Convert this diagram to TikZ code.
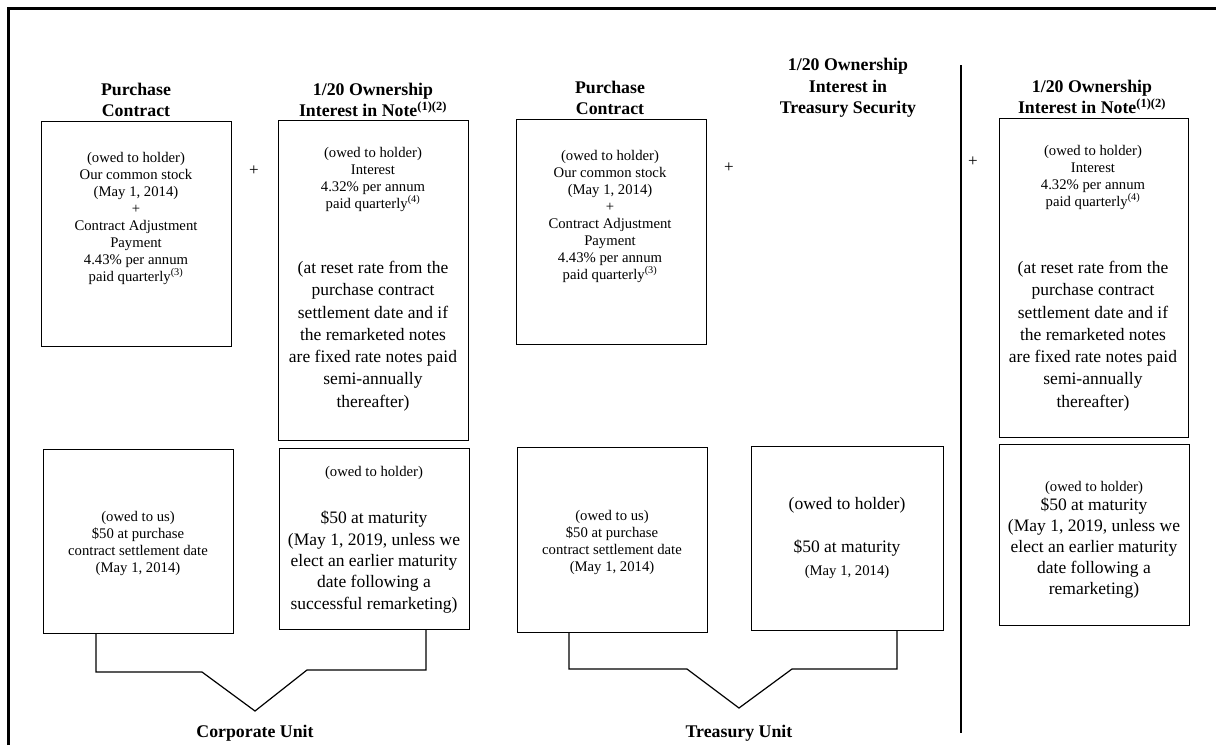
\documentclass[tikz,border=0pt]{standalone}
\usepackage{fontspec}
\setmainfont{Liberation Serif}
\begin{document}
\begin{tikzpicture}[x=1pt,y=-1pt,
  box/.style={draw, line width=1.2pt, anchor=north west, inner sep=0pt},
  hdr/.style={font=\bfseries\fontsize{17.8}{21.5}\selectfont, align=center, inner sep=0pt},
  sm/.style={font=\fontsize{14.7}{17}\selectfont, align=center, inner sep=0pt},
  lg/.style={font=\fontsize{17.5}{22.3}\selectfont, align=center, inner sep=0pt},
  plus/.style={font=\fontsize{17}{17}\selectfont, inner sep=0pt},
  bracket/.style={line width=1.2pt, line join=miter}]
\useasboundingbox (0,0) rectangle (1216,745);

% outer frame (left and top edges) and the column divider
\coordinate (frameTL) at (8,8);
\coordinate (frameTR) at (1216,8);
\coordinate (frameBL) at (8,745);
\draw[line width=3pt] (frameBL) -- (frameTL) -- (frameTR);
\coordinate (divTop) at (961,65);
\coordinate (divBot) at (961,733);
\draw[line width=1.5pt] (divTop) -- (divBot);

% column headings
\node[hdr] (h1) at (136,100) {Purchase\\Contract};
\node[hdr] (h2) at (373,100) {1/20 Ownership\\Interest in Note\textsuperscript{(1)(2)}};
\node[hdr] (h3) at (610,98) {Purchase\\Contract};
\node[hdr] (h4) at (848,88) {1/20 Ownership\\Interest in\\Treasury Security};
\node[hdr] (h5) at (1092,97) {1/20 Ownership\\Interest in Note\textsuperscript{(1)(2)}};

% upper boxes
\node[box, minimum width=190pt, minimum height=225pt] (a1) at (41,121) {};
\node[box, minimum width=190pt, minimum height=320pt] (b1) at (278,120) {};
\node[box, minimum width=190pt, minimum height=225pt] (c1) at (516,119) {};
\node[box, minimum width=189pt, minimum height=319pt] (e1) at (999,118) {};

% lower boxes
\node[box, minimum width=190pt, minimum height=184pt] (a2) at (43,449) {};
\node[box, minimum width=190pt, minimum height=181pt] (b2) at (279,448) {};
\node[box, minimum width=190pt, minimum height=185pt] (c2) at (517,447) {};
\node[box, minimum width=192pt, minimum height=184pt] (d2) at (751,446) {};
\node[box, minimum width=190pt, minimum height=181pt] (e2) at (999,444) {};

% plus signs between columns
\node[plus] (p1) at (254,171) {+};
\node[plus] (p2) at (729,168) {+};
\node[plus] (p3) at (973,162) {+};

% upper box texts
\node[sm] (ta1) at (136,218) {(owed to holder)\\Our common stock\\(May 1, 2014)\\+\\Contract Adjustment\\Payment\\4.43\% per annum\\paid quarterly\textsuperscript{(3)}};
\node[sm] (tc1) at (610,216) {(owed to holder)\\Our common stock\\(May 1, 2014)\\+\\Contract Adjustment\\Payment\\4.43\% per annum\\paid quarterly\textsuperscript{(3)}};
\node[sm] (tb1) at (373,179) {(owed to holder)\\Interest\\4.32\% per annum\\paid quarterly\textsuperscript{(4)}};
\node[lg] (tb1b) at (373,336) {(at reset rate from the\\purchase contract\\settlement date and if\\the remarketed notes\\are fixed rate notes paid\\semi-annually\\thereafter)};
\node[sm] (te1) at (1093,177) {(owed to holder)\\Interest\\4.32\% per annum\\paid quarterly\textsuperscript{(4)}};
\node[lg] (te1b) at (1093,336) {(at reset rate from the\\purchase contract\\settlement date and if\\the remarketed notes\\are fixed rate notes paid\\semi-annually\\thereafter)};

% lower box texts
\node[sm] (ta2) at (138,543) {(owed to us)\\\$50 at purchase\\contract settlement date\\(May 1, 2014)};
\node[sm] (tc2) at (612,542) {(owed to us)\\\$50 at purchase\\contract settlement date\\(May 1, 2014)};
\node[sm] (tb2) at (374,473) {(owed to holder)};
\node[lg, font=\fontsize{17.5}{21.3}\selectfont] (tb2b) at (374,562) {\$50 at maturity\\(May 1, 2019, unless we\\elect an earlier maturity\\date following a\\successful remarketing)};
\node[lg] (td2) at (847,505) {(owed to holder)};
\node[lg] (td2b) at (847,548) {\$50 at maturity};
\node[sm] (td2c) at (847,572) {(May 1, 2014)};
\node[sm] (te2) at (1094,488) {(owed to holder)};
\node[lg, font=\fontsize{17.5}{20.8}\selectfont] (te2b) at (1094,548) {\$50 at maturity\\(May 1, 2019, unless we\\elect an earlier maturity\\date following a\\remarketing)};

% unit brackets
\coordinate (cuL) at (96,672);
\coordinate (cuL2) at (202,672);
\coordinate (cuV) at (255,711);
\coordinate (cuR2) at (307,670);
\coordinate (cuR) at (426,670);
\draw[bracket] (a2.south -| cuL) -- (cuL) -- (cuL2) -- (cuV) -- (cuR2) -- (cuR) -- (b2.south -| cuR);

\coordinate (tuL) at (569,669);
\coordinate (tuL2) at (687,669);
\coordinate (tuV) at (739,708);
\coordinate (tuR2) at (792,669);
\coordinate (tuR) at (897,669);
\draw[bracket] (c2.south -| tuL) -- (tuL) -- (tuL2) -- (tuV) -- (tuR2) -- (tuR) -- (d2.south -| tuR);

% unit labels
\node[hdr] (cu) at (255,733) {Corporate Unit};
\node[hdr] (tu) at (739,733) {Treasury Unit};
\end{tikzpicture}
\end{document}
